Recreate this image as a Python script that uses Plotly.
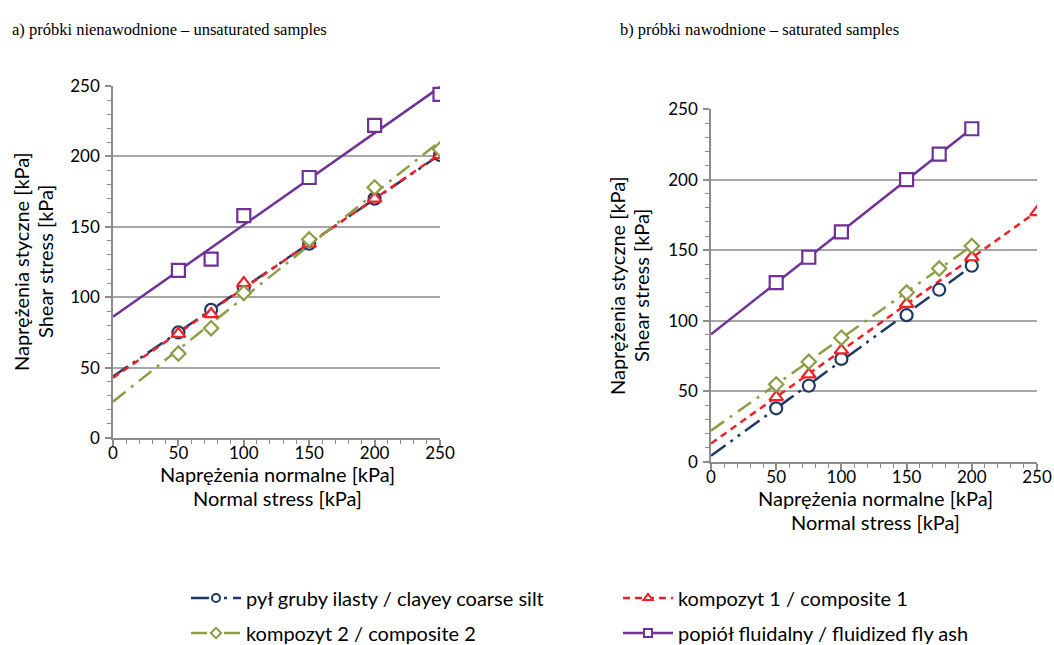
import numpy as np
import plotly.graph_objects as go

# ---------------- data ----------------
series_names = ["pył gruby ilasty / clayey coarse silt",
                "kompozyt 1 / composite 1",
                "kompozyt 2 / composite 2",
                "popiół fluidalny / fluidized fly ash"]

# a) unsaturated samples
a_silt_x = [50, 75, 100, 150, 200, 250]
a_silt_y = [75, 91, 107, 138, 170, 201]
a_c1_x = [50, 75, 100, 150, 200, 250]
a_c1_y = [74, 88, 110, 138, 170, 201]
a_c2_x = [50, 75, 100, 150, 200, 250]
a_c2_y = [60, 78, 103, 141, 178, 205]
a_ash_x = [50, 75, 100, 150, 200, 250]
a_ash_y = [119, 127, 158, 185, 222, 244]

# b) saturated samples
b_silt_x = [50, 75, 100, 150, 175, 200]
b_silt_y = [38, 54, 73, 104, 122, 139]
b_c1_x = [50, 75, 100, 150, 200, 250]
b_c1_y = [46, 62, 79, 112, 145, 177]
b_c2_x = [50, 75, 100, 150, 175, 200]
b_c2_y = [55, 71, 88, 120, 137, 153]
b_ash_x = [50, 75, 100, 150, 175, 200]
b_ash_y = [127, 145, 163, 200, 218, 236]

tick_vals = [0, 50, 100, 150, 200, 250]

x_title_lines = ["Naprężenia normalne [kPa]", "Normal stress [kPa]"]
y_title_lines = ["Naprężenia styczne [kPa]", "Shear stress [kPa]"]
panel_titles = ["a) próbki nienawodnione – unsaturated samples",
                "b) próbki nawodnione – saturated samples"]

# ---------------- styles ----------------
colors = ["#203864", "#EE2127", "#8F9C45", "#6F3198"]
dashes = ["18px,6px,3px,6px,3px,6px", "7px,5px", "16px,7px,3px,7px", "solid"]
symbols = ["circle", "triangle-up", "diamond", "square"]
msizes = [12, 12, 11, 13]

fig = go.Figure()

panels = [
    ("x", "y", [(a_silt_x, a_silt_y), (a_c1_x, a_c1_y), (a_c2_x, a_c2_y), (a_ash_x, a_ash_y)]),
    ("x2", "y2", [(b_silt_x, b_silt_y), (b_c1_x, b_c1_y), (b_c2_x, b_c2_y), (b_ash_x, b_ash_y)]),
]

for xa, ya, data in panels:
    for i, (xs, ys) in enumerate(data):
        k, b = np.polyfit(xs, ys, 1)
        tx = np.array([0, max(xs)])
        fig.add_trace(go.Scatter(x=tx, y=k * tx + b, mode="lines", xaxis=xa, yaxis=ya,
                                 line=dict(color=colors[i], width=2.5, dash=dashes[i]),
                                 showlegend=False, hoverinfo="skip"))
    for i, (xs, ys) in enumerate(data):
        fig.add_trace(go.Scatter(x=xs, y=ys, mode="markers", xaxis=xa, yaxis=ya,
                                 marker=dict(symbol=symbols[i], size=msizes[i], color="white",
                                             line=dict(color=colors[i], width=2.2)),
                                 showlegend=False))

# body margin is removed in the page (post_script), figure fills the window
W, H = 1054, 645
def px(v):
    return v / W
def py(v):
    return 1 - v / H

# legend entries, one legend per entry (2 x 2 grid)
legend_ids = ["legend", "legend2", "legend3", "legend4"]
legend_pos = [(186, 598), (618, 598), (186, 633), (618, 633)]
for i, name in enumerate(series_names):
    fig.add_trace(go.Scatter(x=[None], y=[None], mode="lines+markers", name=name,
                             legend=legend_ids[i],
                             line=dict(color=colors[i], width=2.5, dash=dashes[i]),
                             marker=dict(symbol=symbols[i], size=8, color="white",
                                         line=dict(color=colors[i], width=2))))

leg_font = dict(family="Lato", size=20, color="black")
legend_layout = {}
for lid, (lx, ly) in zip(legend_ids, legend_pos):
    legend_layout[lid] = dict(orientation="h", x=px(lx), y=py(ly), xanchor="left", yanchor="middle",
                              font=leg_font, bgcolor="rgba(0,0,0,0)", itemwidth=50)

axis_common = dict(range=[0, 250], tickvals=tick_vals, showline=True, linecolor="#8C8C8C",
                   linewidth=1.5, ticks="outside", ticklen=6, tickcolor="#8C8C8C", tickwidth=1.5,
                   minor=dict(dtick=10, ticks="outside", ticklen=4, tickcolor="#8C8C8C", tickwidth=1.2),
                   tickfont=dict(family="Lato", size=17, color="black"), zeroline=False,
                   fixedrange=True, automargin=False)

fig.update_layout(
    width=W, height=H, margin=dict(l=0, r=0, t=0, b=0, autoexpand=False),
    paper_bgcolor="white", plot_bgcolor="white",
    xaxis=dict(domain=[px(113), px(440)], anchor="y", showgrid=False, ticklabelstandoff=-7,
               **axis_common),
    yaxis=dict(domain=[py(438), py(86)], anchor="x", showgrid=True, gridcolor="#A6A6A6",
               gridwidth=1.5, ticklabelstandoff=2, **axis_common),
    xaxis2=dict(domain=[px(711), px(1037)], anchor="y2", showgrid=False, ticklabelstandoff=-7,
                **axis_common),
    yaxis2=dict(domain=[py(462), py(109)], anchor="x2", showgrid=True, gridcolor="#A6A6A6",
                gridwidth=1.5, ticklabelstandoff=2, **axis_common),
    showlegend=True,
    **legend_layout,
)

ann_font = dict(family="Lato", size=20, color="black")
title_font = dict(family="Liberation Serif", size=16.5, color="black")
annotations = [
    dict(text=panel_titles[0], x=px(10), y=py(30), xanchor="left", yanchor="middle", font=title_font),
    dict(text=panel_titles[1], x=px(618), y=py(30), xanchor="left", yanchor="middle", font=title_font),
]
# x-axis titles (two lines each)
for cx, ys in [(277, (474, 498)), (875, (498, 522))]:
    for line, yy in zip(x_title_lines, ys):
        annotations.append(dict(text=line, x=px(cx), y=py(yy), xanchor="center", yanchor="middle",
                                font=ann_font))
# y-axis titles (two lines each, rotated)
for cy, xs in [(262, (21, 45)), (286, (617, 641))]:
    for line, xx in zip(y_title_lines, xs):
        annotations.append(dict(text=line, x=px(xx), y=py(cy), xanchor="center", yanchor="middle",
                                textangle=-90, font=ann_font))
for a in annotations:
    a.update(xref="paper", yref="paper", showarrow=False)
fig.update_layout(annotations=annotations)

fig.write_html("out.html", config={"displayModeBar": False},
               post_script="document.body.style.margin='0px';document.body.style.overflow='hidden';")
